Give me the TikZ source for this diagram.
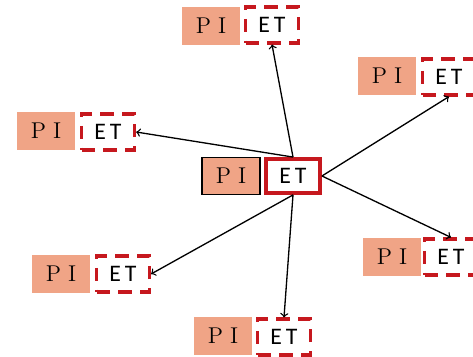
\documentclass[tikz,border=0pt]{standalone}
\usepackage{fontspec}
\newfontfamily\etfont{Carlito}
\usetikzlibrary{arrows}
\definecolor{pisalmon}{RGB}{240,164,134}
\definecolor{etred}{RGB}{198,24,30}

\begin{document}
\begin{tikzpicture}[x=0.02cm, y=-0.02cm, >=to,
    pibox/.style={fill=pisalmon, minimum width=1.16cm, minimum height=0.75cm, inner sep=0pt,
      font=\fontsize{13}{15}\selectfont},
    etbox/.style={draw=etred, line width=1.8pt, dash pattern=on 7.5pt off 5pt,
      minimum width=1.06cm, minimum height=0.72cm, inner sep=0pt,
      font=\etfont\fontsize{13.5}{15}\selectfont},
    link/.style={->, line width=0.75pt}]
    \useasboundingbox (0,0) rectangle (473,357);
    % centre pair
    \node [pibox, draw=black, line width=0.6pt] (PIc) at (231,176) {P\hspace{0.3em}I};
    \node [etbox, solid, line width=2.2pt, minimum width=1.08cm, minimum height=0.68cm] (ETc) at (293,176) {E\,T};
    % outer pairs
    \node [pibox] (PIt)  at (211,26)  {P\hspace{0.3em}I};
    \node [etbox] (ETt)  at (272,25)  {E\,T};
    \node [pibox] (PIl)  at (46,131)  {P\hspace{0.3em}I};
    \node [etbox] (ETl)  at (108,132) {E\,T};
    \node [pibox] (PIrt) at (387,76)  {P\hspace{0.3em}I};
    \node [etbox] (ETrt) at (449,77)  {E\,T};
    \node [pibox] (PIrb) at (392,257) {P\hspace{0.3em}I};
    \node [etbox] (ETrb) at (451,257) {E\,T};
    \node [pibox] (PIb)  at (223,336) {P\hspace{0.3em}I};
    \node [etbox] (ETb)  at (284,337) {E\,T};
    \node [pibox] (PIbl) at (61,274)  {P\hspace{0.3em}I};
    \node [etbox] (ETbl) at (123,274) {E\,T};
    % links from the centre
    \foreach \from/\to in {north/ETt.south, north/ETl.east, east/ETrt.south,
                          east/ETrb.north, south/ETb.north, south/ETbl.east}
      \draw [link] (ETc.\from) -- (\to);
\end{tikzpicture}
\end{document}
